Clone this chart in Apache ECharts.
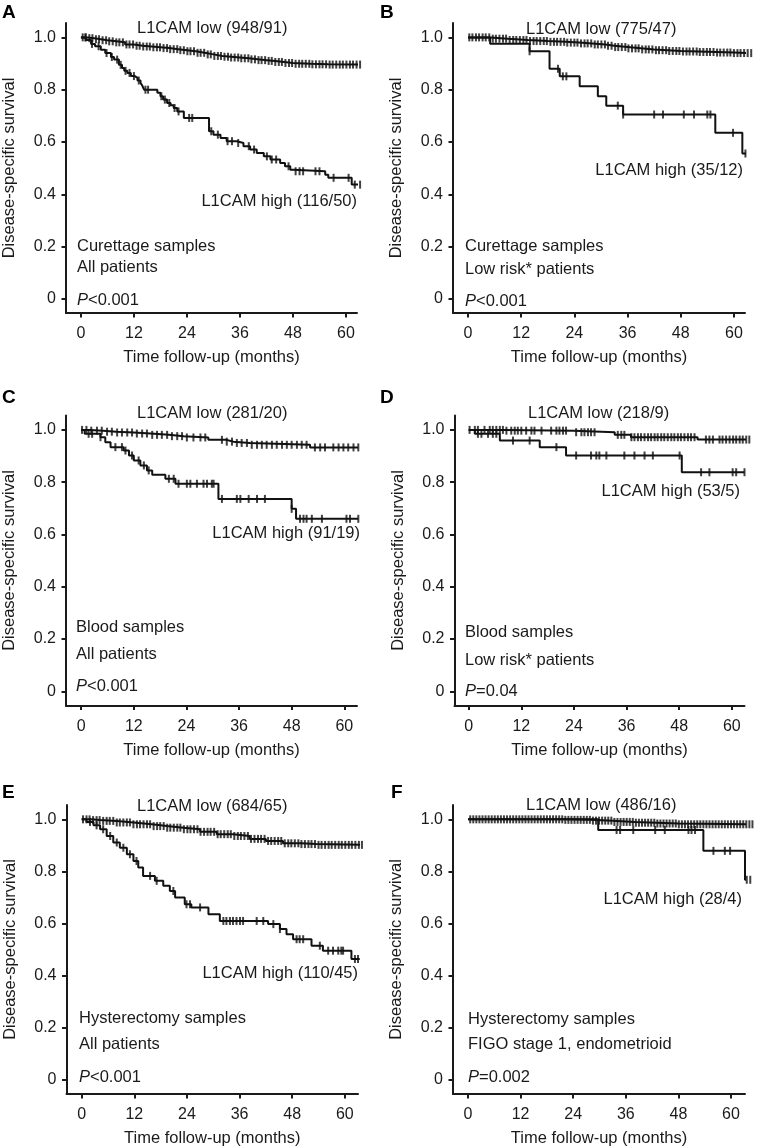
<!DOCTYPE html>
<html><head><meta charset="utf-8">
<script src="https://cdn.jsdelivr.net/npm/echarts@6/dist/echarts.min.js"></script>
<style>html,body{margin:0;padding:0;background:#fff}#c{width:757px;height:1148px}</style>
</head><body><div id="c"></div><script>
// ---------- data (months / survival) ----------
const xTicks = [0, 12, 24, 36, 48, 60];
const yTicks = [0, 0.2, 0.4, 0.6, 0.8, 1.0];

// Panel A
const aLowT = [0,1.5,3,4.5,6,8,10,12,14,16,18,20,22,24,26,28,30,32,34,36,38,40,42,44,46,48,52,56,63.5];
const aLowV = [1.0,0.997,0.993,0.989,0.985,0.981,0.973,0.968,0.965,0.962,0.959,0.955,0.951,0.947,0.941,0.935,0.929,0.926,0.923,0.920,0.916,0.913,0.910,0.906,0.902,0.899,0.897,0.896,0.896];
const aHighT = [0,1.2,2.3,3.2,4.5,5.5,6.8,7.5,8.6,9.3,9.8,10.5,11.3,12.2,12.8,13.5,13.9,14.3,17.3,18,18.6,19.5,20.3,21,21.8,23.3,29,30,31.6,33,35.3,36.8,38.3,39.8,41.4,42.9,45.1,46.2,47.4,48.1,55.3,56,61.3,63.5];
const aHighV = [1.0,0.99,0.975,0.966,0.953,0.94,0.925,0.915,0.895,0.883,0.872,0.864,0.852,0.845,0.835,0.826,0.815,0.80,0.788,0.775,0.762,0.749,0.74,0.73,0.717,0.692,0.641,0.628,0.615,0.603,0.596,0.584,0.571,0.558,0.545,0.533,0.52,0.507,0.494,0.488,0.475,0.463,0.437,0.437];
const aLowCens = [0.4,1.1,1.9,2.6,3.4,4.1,4.9,5.7,6.4,7.2,8.0,8.7,9.5,10.3,11.0,11.8,12.6,13.3,14.1,14.9,15.6,16.4,17.2,17.9,18.7,19.5,20.2,21.0,21.8,22.5,23.3,24.1,24.8,25.6,26.4,27.1,27.9,28.7,29.4,30.2,31.0,31.7,32.5,33.3,34.0,34.8,35.6,36.3,37.1,37.9,38.6,39.4,40.2,40.9,41.7,42.5,43.2,44.0,44.8,45.5,46.3,47.1,47.8,48.6,49.4,50.1,50.9,51.7,52.4,53.2,54.0,54.7,55.5,56.3,57.0,57.8,58.6,59.3,60.1,60.9,61.6,62.4,63.2];
const aHighCens = [1.0,2.5,4.0,5.8,7.0,8.2,9.0,10.1,11.0,12.0,13.1,14.6,15.2,18.2,19.0,20.0,21.2,22.1,24.5,25.2,29.5,31.0,33.2,34.2,35.6,38.0,39.2,42.1,43.2,44.2,47.0,48.6,49.5,50.3,53.1,54.0,57.2,60.6,62.0,63.2];

// Panel B
const bLowT = [0,5,9,13.5,18,22,25,28,31,33,36,39,42,45,48,52,56,60,64.3];
const bLowV = [1.0,0.995,0.99,0.986,0.983,0.98,0.977,0.973,0.968,0.963,0.958,0.954,0.951,0.948,0.946,0.944,0.942,0.940,0.940];
const bHighT = [0,5,13.9,18.4,20.7,25.2,29.3,31.2,35,55.8,61.9,63.2];
const bHighV = [1.0,0.976,0.947,0.880,0.851,0.813,0.775,0.739,0.705,0.635,0.556,0.556];
const bLowCens = [0.3,1.0,1.8,2.5,3.3,4.0,4.8,5.6,6.3,7.1,7.9,8.6,9.4,10.2,10.9,11.7,12.5,13.2,14.0,14.8,15.5,16.3,17.1,17.8,18.6,19.4,20.1,20.9,21.7,22.4,23.2,24.0,24.7,25.5,26.3,27.0,27.8,28.6,29.3,30.1,30.9,31.6,32.4,33.2,33.9,34.7,35.5,36.2,37.0,37.8,38.5,39.3,40.1,40.8,41.6,42.4,43.1,43.9,44.7,45.4,46.2,47.0,47.7,48.5,49.3,50.0,50.8,51.6,52.3,53.1,53.9,54.6,55.4,56.2,56.9,57.7,58.5,59.2,60.0,60.8,61.5,62.3,63.1,63.9];
const bHighCens = [13.9,20.3,21.4,22.2,33.8,35.0,42.0,44.0,48.7,51.0,54.0,54.7,59.8,62.6];

// Panel C
const cLowT = [0,2,5,8,12,15.8,20,23.4,29,33,34.7,38.5,52.2,64];
const cLowV = [1.0,0.997,0.993,0.99,0.986,0.981,0.976,0.971,0.962,0.955,0.95,0.943,0.933,0.933];
const cHighT = [0,0.8,4.4,5.5,6.7,9.7,10.9,12,13.5,15,16.2,19.2,21.5,31.3,48,49,63.6];
const cHighV = [1.0,0.985,0.972,0.953,0.934,0.921,0.902,0.883,0.864,0.845,0.828,0.813,0.794,0.736,0.698,0.66,0.66];
const cLowCens = [0.2,1.2,2.3,3.6,4.7,5.9,7.0,8.2,9.3,10.5,11.6,12.7,13.9,15.0,16.2,17.3,18.4,19.6,20.7,21.9,23.0,24.1,25.6,27.2,28.3,32.1,33.2,34.4,35.5,36.6,37.8,38.9,40.1,41.2,42.3,43.5,44.6,45.8,46.9,48.0,49.2,50.3,51.4,53.3,54.5,55.6,57.5,58.7,59.8,60.9,62.1,63.2];
const cHighCens = [1.7,2.5,4.4,7.8,9.3,10.1,11.6,13.1,14.3,15.4,20.0,21.1,22.2,24.1,24.9,26.4,27.9,28.7,29.8,30.2,32.1,35.5,36.3,38.2,40.1,41.9,48.0,49.9,50.7,51.4,52.6,54.9,60.5,61.3,63.2];

// Panel D
const dLowT = [0,8.2,24,33.3,37,52.2,64.4];
const dLowV = [1.0,0.997,0.991,0.981,0.972,0.963,0.963];
const dHighT = [0,1.4,7.1,16.2,22.2,48.6,62.9];
const dHighV = [1.0,0.985,0.959,0.934,0.902,0.838,0.838];
const dLowCens = [0.2,1.4,2.1,3.6,4.8,5.5,6.3,7.1,7.8,8.6,9.7,10.5,11.2,12.0,13.1,14.3,15.0,16.6,18.8,20.0,20.7,21.5,22.2,24.5,25.7,26.4,27.2,27.9,28.7,34.0,34.8,35.5,37.1,37.8,38.6,39.3,40.1,40.9,41.6,42.4,43.1,43.9,44.6,45.4,46.2,46.9,47.7,48.4,49.2,50.0,50.7,51.5,54.1,54.9,55.7,57.2,57.9,58.7,59.5,60.3,61.0,61.8,62.5,63.3,64.0];
const dHighCens = [2.1,2.9,4.4,5.5,6.3,10.1,13.9,20.0,24.5,27.9,29.1,29.8,31.4,35.5,37.8,40.1,42.0,48.1,53.0,54.9,60.2,61.0,62.9];

// Panel E
const eLowT = [0,2,4.2,8,11.8,16,19.4,23.2,27,30.8,34.5,38.3,42,45.9,50,53.5,64.2];
const eLowV = [1.0,0.997,0.994,0.988,0.981,0.974,0.968,0.962,0.952,0.943,0.936,0.925,0.917,0.908,0.905,0.902,0.900];
const eHighT = [0,1.1,2.7,4.2,5.7,7.2,8.7,10.3,11.8,12.9,14,16.7,18.6,20.1,21.3,23.5,25,28.9,31.5,42.5,45.2,46.7,48.2,52.4,55,61.5,63.4];
const eHighV = [1.0,0.99,0.977,0.962,0.936,0.911,0.891,0.866,0.84,0.815,0.783,0.764,0.745,0.725,0.70,0.674,0.662,0.636,0.61,0.598,0.579,0.559,0.54,0.515,0.496,0.464,0.464];
const eLowCens = [0.3,1.1,1.8,2.6,3.4,4.1,4.9,5.7,6.4,7.2,8.0,8.7,9.5,10.3,11.0,11.8,12.6,13.3,14.1,14.9,15.6,16.4,17.2,17.9,18.7,19.5,20.2,21.0,21.8,22.5,23.3,24.1,24.8,25.6,26.4,27.1,27.9,28.7,29.4,30.2,31.0,31.7,32.5,33.3,34.0,34.8,35.6,36.3,37.1,37.9,38.6,39.4,40.2,40.9,41.7,42.5,43.2,44.0,44.8,45.5,46.3,47.1,47.8,48.6,49.4,50.1,50.9,51.7,52.4,53.2,54.0,54.7,55.5,56.3,57.0,57.8,58.6,59.3,60.1,60.9,61.6,62.4,63.2,63.9];
const eHighCens = [1.9,3.4,4.9,6.5,8.0,9.5,11.0,12.5,15.6,17.1,20.9,23.9,24.7,27.0,32.3,33.0,33.8,34.5,35.3,36.1,36.8,39.9,41.4,43.7,45.2,49.0,49.7,50.5,54.3,56.2,57.3,58.5,59.2,59.6,62.3,63.0];

// Panel F
const fLowT = [0,22,28,33,38,43,48,65];
const fLowV = [1.0,0.998,0.995,0.99,0.987,0.984,0.981,0.981];
const fHighT = [0,29.7,53.7,63.2,64.7];
const fHighV = [1.0,0.959,0.879,0.768,0.768];
const fLowCens = [0.5,1.2,1.9,2.6,3.3,4.0,4.7,5.4,6.1,6.8,7.5,8.2,8.9,9.6,10.3,11.0,11.7,12.4,13.1,13.8,14.5,15.2,15.9,16.6,17.3,18.0,18.7,19.4,20.1,20.8,21.5,22.2,22.9,23.6,24.3,25.0,25.7,26.4,27.1,27.8,28.5,29.2,29.9,30.6,31.3,32.0,32.7,33.4,34.1,34.8,35.5,36.2,36.9,37.6,38.3,39.0,39.7,40.4,41.1,41.8,42.5,43.2,43.9,44.6,45.3,46.0,46.7,47.4,48.1,48.8,49.5,50.2,50.9,51.6,52.3,53.0,53.7,54.4,55.1,55.8,56.5,57.2,57.9,58.6,59.3,60.0,60.7,61.4,62.1,62.8,63.5,64.2,64.9];
const fHighCens = [33.9,34.7,37.7,42.7,44.9,50.3,51.0,51.8,56.0,58.6,59.8,63.6,64.4];

// Text
const panelLetters = ['A','B','C','D','E','F'];
const lowLabels = ['L1CAM low (948/91)','L1CAM low (775/47)','L1CAM low (281/20)','L1CAM low (218/9)','L1CAM low (684/65)','L1CAM low (486/16)'];
const highLabels = ['L1CAM high (116/50)','L1CAM high (35/12)','L1CAM high (91/19)','L1CAM high (53/5)','L1CAM high (110/45)','L1CAM high (28/4)'];
const sampleLabels = ['Curettage samples','Curettage samples','Blood samples','Blood samples','Hysterectomy samples','Hysterectomy samples'];
const groupLabels = ['All patients','Low risk* patients','All patients','Low risk* patients','All patients','FIGO stage 1, endometrioid'];
const pLabels = ['<0.001','<0.001','<0.001','=0.04','<0.001','=0.002'];
const xName = 'Time follow-up (months)';
const yName = 'Disease-specific survival';

// ---------- layout ----------
const FONT = '"Liberation Sans", Arial, Helvetica, sans-serif';
const INK = '#1a1a1a';
const GRIDS = [
  {left:65, top:23, width:292, height:290},
  {left:453, top:23, width:292, height:290},
  {left:65.5, top:415.5, width:291.5, height:290},
  {left:454.5, top:415.5, width:290, height:290},
  {left:66.5, top:805, width:291.5, height:289},
  {left:453, top:805, width:292, height:289}
];
const XRANGE = [[-3.38, 62.5], [-3.38, 62.5], [-3.46, 62.9], [-3.24, 62.9], [-3.46, 63.0], [-3.43, 63.2]];
// text positions: [lowX, lowY, highRightX, highY, sampleX, sampleY, groupY, pY, letterX, letterY]
const TXT = [
  [137, 28.5, 357, 201, 77, 246, 267, 300, 2, 12.5],
  [526, 29, 743, 170, 465, 246, 269, 301, 380, 12.5],
  [137, 413, 360, 533, 76, 627, 654, 686, 2, 397.5],
  [528, 413, 740, 491, 465, 632, 660, 691, 380, 397.5],
  [137, 806, 358, 973, 79, 1018, 1044, 1077, 2, 792.5],
  [526, 805, 742, 899, 468, 1019, 1044, 1077, 391, 792.5]
];

const panels = [
  {lowT:aLowT, lowV:aLowV, highT:aHighT, highV:aHighV, lowC:aLowCens, highC:aHighCens},
  {lowT:bLowT, lowV:bLowV, highT:bHighT, highV:bHighV, lowC:bLowCens, highC:bHighCens},
  {lowT:cLowT, lowV:cLowV, highT:cHighT, highV:cHighV, lowC:cLowCens, highC:cHighCens},
  {lowT:dLowT, lowV:dLowV, highT:dHighT, highV:dHighV, lowC:dLowCens, highC:dHighCens},
  {lowT:eLowT, lowV:eLowV, highT:eHighT, highV:eHighV, lowC:eLowCens, highC:eHighCens},
  {lowT:fLowT, lowV:fLowV, highT:fHighT, highV:fHighV, lowC:fLowCens, highC:fHighCens}
];

function stepAt(ts, vs, t) {
  let v = vs[0];
  for (let i = 0; i < ts.length; i++) { if (ts[i] <= t) v = vs[i]; else break; }
  return v;
}

const grid = [], xAxis = [], yAxis = [], series = [], graphic = [];
panels.forEach((p, i) => {
  grid.push(Object.assign({containLabel:false}, GRIDS[i]));
  xAxis.push({
    type:'value', gridIndex:i, min:XRANGE[i][0], max:XRANGE[i][1],
    axisLine:{show:true, onZero:false, lineStyle:{color:INK, width:2}},
    axisTick:{show:true, length:4.5, customValues:xTicks, lineStyle:{color:INK, width:2}},
    axisLabel:{customValues:xTicks, color:INK, fontSize:16, fontFamily:FONT, margin:13},
    splitLine:{show:false},
    name:xName, nameLocation:'middle', nameGap:36,
    nameTextStyle:{color:INK, fontSize:16.5, fontFamily:FONT}
  });
  yAxis.push({
    type:'value', gridIndex:i, min:-0.054, max:1.055,
    axisLine:{show:true, onZero:false, lineStyle:{color:INK, width:2}},
    axisTick:{show:true, length:4.5, customValues:yTicks, lineStyle:{color:INK, width:2}},
    axisLabel:{customValues:yTicks, color:INK, fontSize:16, fontFamily:FONT, margin:10,
      formatter:v => (Math.abs(v) < 1e-9 ? '0' : v.toFixed(1))},
    splitLine:{show:false},
    name:yName, nameLocation:'middle', nameGap:48, nameRotate:90,
    nameTextStyle:{color:INK, fontSize:16.5, fontFamily:FONT}
  });
  const mkLine = (ts, vs) => ({
    type:'line', xAxisIndex:i, yAxisIndex:i, step:'end', symbol:'none', clip:false,
    silent:true, animation:false, z:3,
    lineStyle:{color:'#111', width:2},
    data: ts.map((t, k) => [t, vs[k]])
  });
  const mkCens = (cs, ts, vs) => ({
    type:'scatter', xAxisIndex:i, yAxisIndex:i, symbol:'rect', symbolSize:[2, 8],
    clip:false, silent:true, animation:false, z:4,
    itemStyle:{color:'#111'},
    data: cs.map(t => [t, stepAt(ts, vs, t)])
  });
  series.push(mkLine(p.lowT, p.lowV), mkLine(p.highT, p.highV),
              mkCens(p.lowC, p.lowT, p.lowV), mkCens(p.highC, p.highT, p.highV));

  const T = TXT[i];
  const st = (text, align, extra) => Object.assign({text, fill:INK, font:'16.5px ' + FONT,
    textAlign:align, textVerticalAlign:'middle'}, extra || {});
  graphic.push(
    {type:'text', x:T[0], y:T[1], style:st(lowLabels[i], 'left')},
    {type:'text', x:T[2], y:T[3], style:st(highLabels[i], 'right')},
    {type:'text', x:T[4], y:T[5], style:st(sampleLabels[i], 'left')},
    {type:'text', x:T[4], y:T[6], style:st(groupLabels[i], 'left')},
    {type:'text', x:T[4], y:T[7], style:st('{i|P}' + pLabels[i], 'left',
      {rich:{i:{fontStyle:'italic', fontSize:16.5, fontFamily:FONT, fill:INK}}})},
    {type:'text', x:T[8], y:T[9], style:{text:panelLetters[i], fill:'#000',
      font:'bold 19px ' + FONT, textAlign:'left', textVerticalAlign:'middle'}}
  );
});

const chart = echarts.init(document.getElementById('c'), null, {renderer:'canvas'});
chart.setOption({animation:false, backgroundColor:'#fff', grid, xAxis, yAxis, series, graphic});
</script></body></html>
